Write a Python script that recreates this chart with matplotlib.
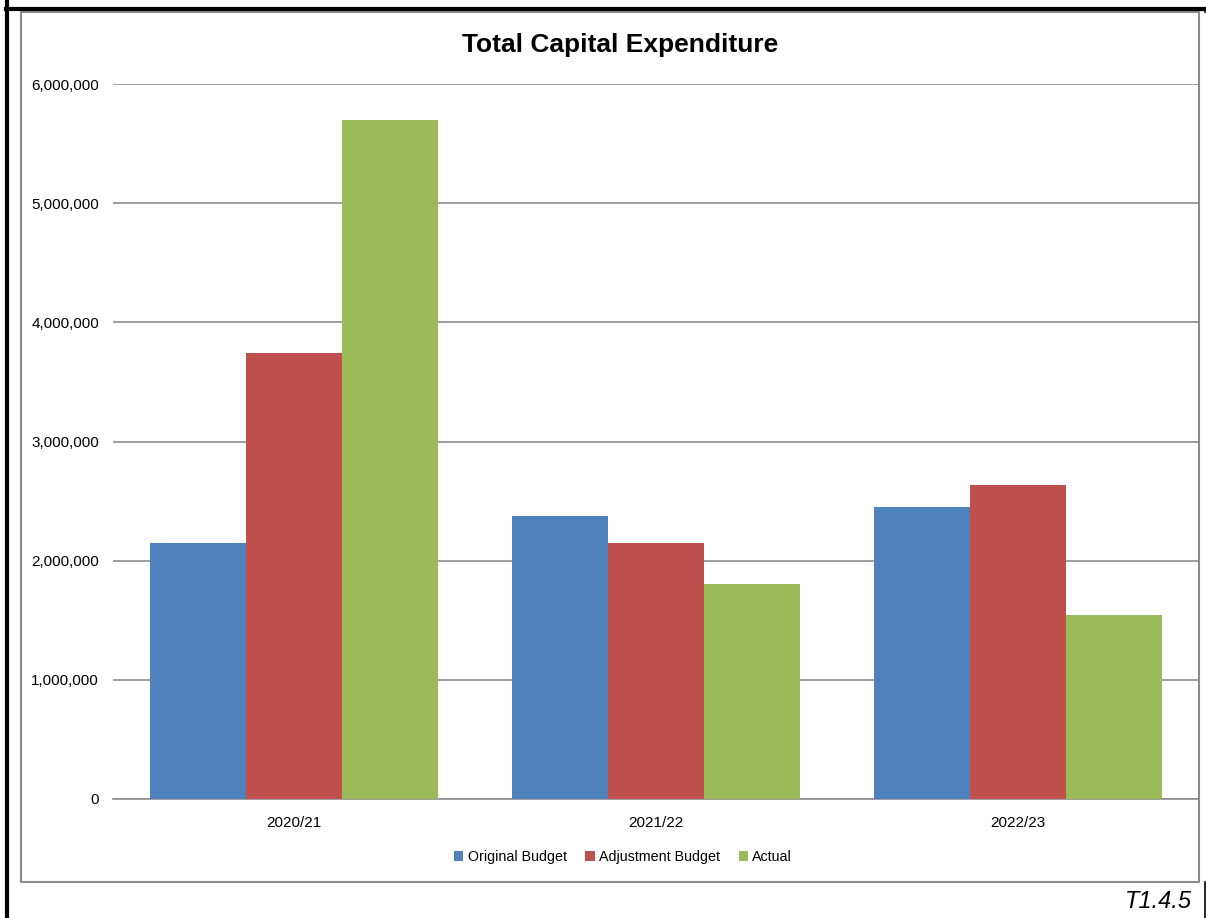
import matplotlib
matplotlib.use("Agg")
import matplotlib.pyplot as plt
from matplotlib.lines import Line2D
from matplotlib.patches import Rectangle
import numpy as np

categories = ["2020/21", "2021/22", "2022/23"]
series_names = ["Original Budget", "Adjustment Budget", "Actual"]
original_budget = [2150000, 2375000, 2450000]
adjustment_budget = [3742000, 2148000, 2635000]
actual = [5698000, 1804000, 1544000]
colors = ["#4F81BD", "#C0504D", "#9BBB59"]

plt.rcParams['font.family'] = ['Liberation Sans Narrow', 'Liberation Sans', 'DejaVu Sans']

W, H = 1206, 918
fig = plt.figure(figsize=(W / 100, H / 100), dpi=100)

def fx(px):
    return px / W

def fy(py):
    return 1 - py / H

# outer frame lines (black)
fig.add_artist(Line2D([fx(7), fx(7)], [fy(0), fy(918)], color="black", lw=3, transform=fig.transFigure))
fig.add_artist(Line2D([fx(6), fx(1205)], [fy(9), fy(9)], color="black", lw=3, transform=fig.transFigure))
fig.add_artist(Line2D([fx(1204.5), fx(1204.5)], [fy(8), fy(12)], color="black", lw=1.2, transform=fig.transFigure))
fig.add_artist(Line2D([fx(1204.5), fx(1204.5)], [fy(882), fy(918)], color="black", lw=1.2, transform=fig.transFigure))
# chart area border (gray)
fig.add_artist(Rectangle((fx(21), fy(882)), fx(1199) - fx(21), fy(12) - fy(882),
                         fill=False, edgecolor="#8c8c8c", lw=1.5, transform=fig.transFigure))

ax = fig.add_axes([fx(113), fy(799), fx(1199) - fx(113), fy(84) - fy(799)])

x = np.arange(len(categories))
bw = 0.266
data = [original_budget, adjustment_budget, actual]
for i, (vals, name, c) in enumerate(zip(data, series_names, colors)):
    ax.bar(x + (i - 1) * bw, vals, width=bw, color=c, label=name, zorder=3)

ax.set_xlim(-0.5, 2.5)
ax.set_ylim(0, 6000000)
yt = np.arange(0, 6000001, 1000000)
ax.set_yticks(yt)
ax.set_yticklabels([f"{v:,.0f}" for v in yt], fontsize=11)
ax.set_xticks(x)
ax.set_xticklabels(categories, fontsize=11)
ax.tick_params(axis="both", length=0)
ax.tick_params(axis="y", pad=10)
ax.tick_params(axis="x", pad=12)
ax.yaxis.grid(True, color="#8c8c8c", lw=1.2, zorder=0)
for s in ["top", "right", "left"]:
    ax.spines[s].set_visible(False)
ax.spines["bottom"].set_color("#8c8c8c")
ax.spines["bottom"].set_linewidth(1.2)

fig.text(fx(620), fy(45), "Total Capital Expenditure", ha="center", va="center",
         fontsize=19, fontweight="bold")

leg = fig.legend(loc="center", bbox_to_anchor=(fx(623), fy(857)), ncol=3, frameon=False,
                 fontsize=10.3, handlelength=0.65, handleheight=0.65, handletextpad=0.3,
                 columnspacing=1.3)

fig.text(fx(1192), fy(901), "T1.4.5", ha="right", va="center", fontsize=17, style="italic")

fig.savefig("out.png", dpi=100)
